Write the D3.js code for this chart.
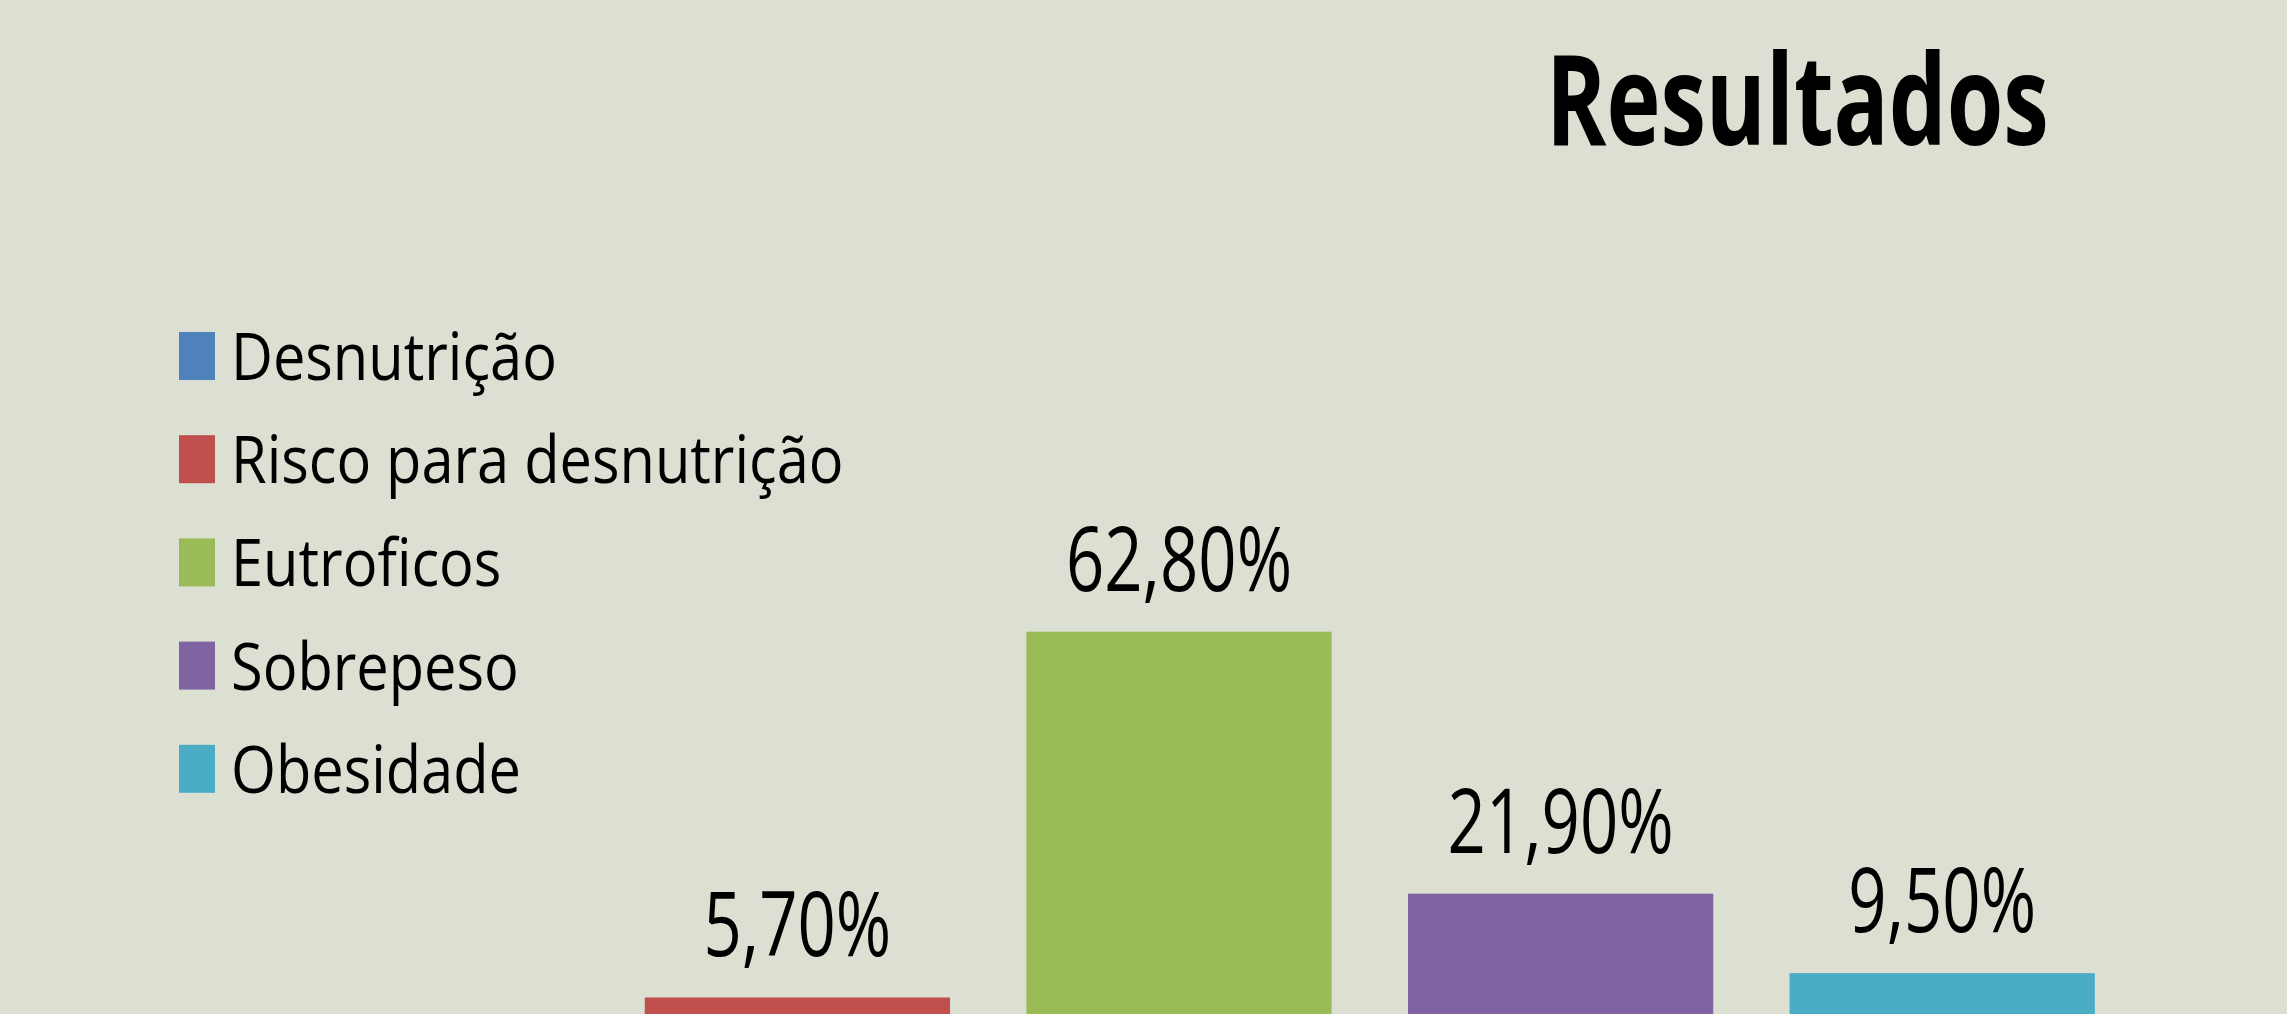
<!DOCTYPE html>
<html>
<head>
<meta charset="utf-8">
<script src="https://cdn.jsdelivr.net/npm/d3@7"></script>
<style>
  html, body { margin: 0; padding: 0; background: #dbe0d3; }
  svg { display: block; }
  text { font-family: "Open Sans", "Noto Sans", sans-serif; fill: #000; }
</style>
</head>
<body>
<svg id="chart"></svg>
<script>
const categories = ["Desnutrição", "Risco para desnutrição", "Eutroficos", "Sobrepeso", "Obesidade"];
const values = [0, 5.7, 62.8, 21.9, 9.5];
const valueLabels = ["", "5,70%", "62,80%", "21,90%", "9,50%"];
const colors = ["#4f81bd", "#c0504d", "#9bbb59", "#8064a2", "#4bacc6"];
const title = "Resultados";

const width = 2287;
const height = 1014;
const baseline = 1034; // plot floor sits just below the visible frame

const data = categories.map((c, i) => ({
  category: c,
  value: values[i],
  label: valueLabels[i],
  color: colors[i],
}));

const svg = d3.select("#chart").attr("width", width).attr("height", height);

const x = d3
  .scaleBand()
  .domain(categories)
  .range([225, 2133])
  .paddingInner(0.2)
  .paddingOuter(0.1);

const y = d3.scaleLinear().domain([0, 100]).range([baseline, baseline - 640.6]);

// bars
svg
  .selectAll("rect.bar")
  .data(data.filter((d) => d.value > 0))
  .join("rect")
  .attr("class", "bar")
  .attr("x", (d) => x(d.category))
  .attr("y", (d) => y(d.value))
  .attr("width", x.bandwidth())
  .attr("height", (d) => y(0) - y(d.value))
  .attr("fill", (d) => d.color);

// value labels, squeezed horizontally like the original
const labelScale = 0.745;
svg
  .selectAll("g.vlabel")
  .data(data.filter((d) => d.label))
  .join("g")
  .attr("class", "vlabel")
  .attr(
    "transform",
    (d) => `translate(${x(d.category) + x.bandwidth() / 2}, ${y(d.value) - 41}) scale(${labelScale}, 1)`
  )
  .append("text")
  .attr("text-anchor", "middle")
  .attr("font-size", 90)
  .text((d) => d.label);

// title
svg
  .append("g")
  .attr("transform", `translate(1546, 145) scale(0.726, 1)`)
  .append("text")
  .attr("font-size", 126)
  .attr("font-weight", 700)
  .text(title);

// legend
const legend = svg
  .append("g")
  .attr("class", "legend")
  .selectAll("g")
  .data(data)
  .join("g")
  .attr("transform", (d, i) => `translate(179, ${332 + i * 103.2})`);

legend
  .append("rect")
  .attr("width", 36)
  .attr("height", 48)
  .attr("fill", (d) => d.color);

legend
  .append("g")
  .attr("transform", "translate(52, 48) scale(0.875, 1)")
  .append("text")
  .attr("font-size", 66)
  .text((d) => d.category);
</script>
</body>
</html>
